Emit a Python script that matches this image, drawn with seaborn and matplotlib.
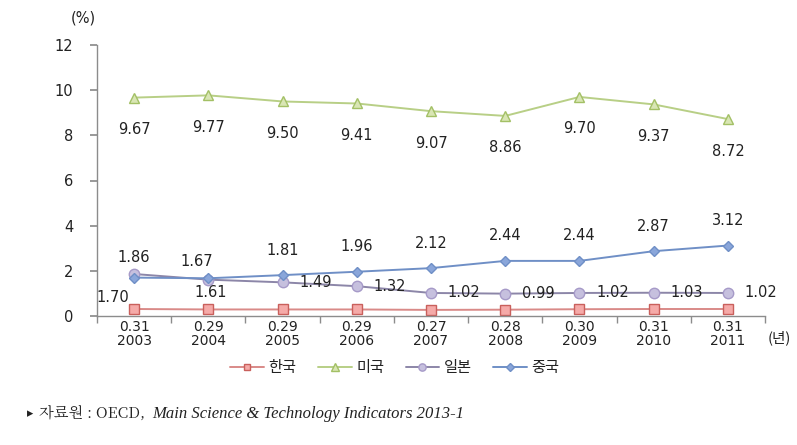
import matplotlib
matplotlib.use("Agg")
import matplotlib.pyplot as plt
import seaborn as sns
import pandas as pd
import numpy as np

years = ["2003", "2004", "2005", "2006", "2007", "2008", "2009", "2010", "2011"]
korea = [0.31, 0.29, 0.29, 0.29, 0.27, 0.28, 0.30, 0.31, 0.31]
usa = [9.67, 9.77, 9.50, 9.41, 9.07, 8.86, 9.70, 9.37, 8.72]
japan = [1.86, 1.61, 1.49, 1.32, 1.02, 0.99, 1.02, 1.03, 1.02]
china = [1.70, 1.67, 1.81, 1.96, 2.12, 2.44, 2.44, 2.87, 3.12]
names = ["한국", "미국", "일본", "중국"]
yticks = [0, 2, 4, 6, 8, 10, 12]

sns.set_theme(style="white")
plt.rcParams['font.family'] = ['DejaVu Sans', 'Noto Sans CJK KR']

fig = plt.figure(figsize=(7.97, 4.45), dpi=100)
ax = fig.add_axes([97/797, 1-316/445, (765-97)/797, (316-45)/445])

x = np.arange(len(years))
styles = {
    "한국": dict(color="#d98a88", marker="s", mfc="#f5aaa8", mec="#c9605c", ms=7),
    "미국": dict(color="#b8cf86", marker="^", mfc="#d9e6b4", mec="#a3c065", ms=7.5),
    "일본": dict(color="#8c86a8", marker="o", mfc="#c6c0de", mec="#a69ac8", ms=7.5),
    "중국": dict(color="#6f8fc6", marker="D", mfc="#8aa6da", mec="#6f8fc6", ms=5.5),
}
series = {"한국": korea, "미국": usa, "일본": japan, "중국": china}
for n in names:
    st = styles[n]
    sns.lineplot(x=x, y=series[n], ax=ax, color=st["color"], marker=st["marker"],
                 markerfacecolor=st["mfc"], markeredgecolor=st["mec"], markersize=st["ms"],
                 markeredgewidth=1.0, linewidth=1.4, label=n)

# data labels
lab_fs = 10.5
txtc = "#222222"
for i, v in enumerate(usa):
    ax.annotate(f"{v:.2f}", (i, v), xytext=(0, -23), textcoords="offset points",
                ha="center", va="center", fontsize=lab_fs, color=txtc)
for i, v in enumerate(china):
    off = (0, 18)
    if i == 0:
        off = (-15, -14)
    elif i == 1:
        off = (-8, 12)
    ax.annotate(f"{v:.2f}", (i, v), xytext=off, textcoords="offset points",
                ha="center", va="center", fontsize=lab_fs, color=txtc)
for i, v in enumerate(japan):
    off = (12, 0)
    ha = "left"
    if i == 0:
        off = (0, 12)
        ha = "center"
    elif i == 1:
        off = (2, -9)
        ha = "center"
    ax.annotate(f"{v:.2f}", (i, v), xytext=off, textcoords="offset points",
                ha=ha, va="center", fontsize=lab_fs, color=txtc)

ax.set_xlim(-0.5, len(years) - 0.5)
ax.set_ylim(0, 12)
ax.set_yticks(yticks)
ax.set_yticklabels([str(t) for t in yticks], fontsize=10.5, color=txtc)
ax.set_xticks(x)
ax.set_xticklabels([f"{k:.2f}\n{y}" for k, y in zip(korea, years)], fontsize=10,
                   color=txtc, linespacing=0.95)
ax.set_xticks(np.arange(-0.5, len(years)), minor=True)
ax.tick_params(axis="x", which="major", length=0, pad=3)
ax.tick_params(axis="x", which="minor", length=5, direction="out", color="#8c8c8c", bottom=True)
ax.tick_params(axis="y", length=5, direction="out", color="#8c8c8c", left=True, pad=12)
for s in ["top", "right"]:
    ax.spines[s].set_visible(False)
for s in ["left", "bottom"]:
    ax.spines[s].set_color("#8c8c8c")
    ax.spines[s].set_linewidth(1.0)
ax.set_xlabel("")
ax.set_ylabel("")

leg = ax.legend(loc="center", bbox_to_anchor=(0.446, -0.19), ncol=4, frameon=False,
                handlelength=2.2, handletextpad=0.3, columnspacing=1.4, markerscale=0.7,
                prop={"family": ["Noto Sans CJK KR"], "size": 11})
for t in leg.get_texts():
    t.set_color(txtc)

fig.text(83/797, 1-18/445, "(%)", ha="center", va="center", fontsize=10.5, color=txtc)
fig.text(779/797, 1-338/445, "(년)", ha="center", va="center", fontsize=10.5,
         color=txtc, family=["Noto Sans CJK KR"])

fig.text(30/797, 1-414/445, "▸", ha="center", va="center", fontsize=9, color=txtc)
fig.text(39/797, 1-414/445, "자료원 : OECD,", ha="left", va="center", fontsize=11,
         color=txtc, family=["Noto Serif CJK KR", "Noto Sans CJK KR", "DejaVu Serif"])
fig.text(152/797, 1-414/445, "Main Science & Technology Indicators 2013-1", ha="left",
         va="center", fontsize=12, color=txtc, family=["Liberation Serif"], style="italic")

fig.savefig("out.png", dpi=100, facecolor="white")
